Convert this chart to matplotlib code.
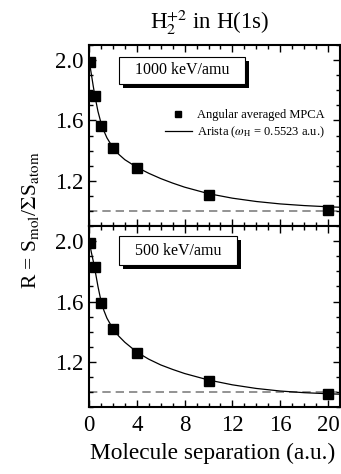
import matplotlib
matplotlib.use("Agg")
import matplotlib.pyplot as plt
from matplotlib.patches import Rectangle
from matplotlib.ticker import MultipleLocator

plt.rcParams['font.family'] = ['Liberation Serif', 'DejaVu Serif']
plt.rcParams['mathtext.fontset'] = 'stix'

# MPCA points
sep = [0.1, 0.5, 1, 2, 4, 10, 20]
r_1000 = [1.99, 1.76, 1.565, 1.42, 1.285, 1.105, 1.005]
r_500 = [1.99, 1.83, 1.59, 1.42, 1.26, 1.072, 0.986]

# Arista curve
curve_x = [0, 0.1, 0.2, 0.35, 0.5, 0.75, 1, 1.25, 1.5, 2, 2.5, 3, 4, 5, 6, 7, 8,
           10, 12, 14, 16, 18, 20, 21]
curve_1000 = [2.0, 1.955, 1.905, 1.83, 1.76, 1.66, 1.585, 1.53, 1.485, 1.42, 1.375, 1.34,
              1.29, 1.25, 1.215, 1.185, 1.158, 1.115, 1.085, 1.063, 1.047, 1.036, 1.028, 1.025]
curve_500 = [2.0, 1.965, 1.925, 1.87, 1.81, 1.70, 1.605, 1.54, 1.49, 1.42, 1.37, 1.33,
             1.265, 1.218, 1.18, 1.15, 1.123, 1.08, 1.048, 1.024, 1.007, 0.996, 0.989, 0.986]

labels = ["1000 keV/amu", "500 keV/amu"]
points = [r_1000, r_500]
curves = [curve_1000, curve_500]

fig = plt.figure(figsize=(3.41, 4.74), dpi=100)
L, R = 0.261, 0.997
ax_top = fig.add_axes([L, 0.523, R - L, 0.905 - 0.523])
ax_bot = fig.add_axes([L, 0.141, R - L, 0.523 - 0.141])

boxes = [(0.12, 0.785, 0.50, 0.149), (0.12, 0.785, 0.47, 0.16)]

for i, ax in enumerate([ax_top, ax_bot]):
    ax.axhline(1.0, color='#808080', ls=(0, (5, 3)), lw=1.2, zorder=1)
    ax.plot(curve_x, curves[i], color='k', lw=0.9, zorder=2,
            label=r'Arista ($\omega_{\rm H}$ = 0.5523 a.u.)')
    ax.plot(sep, points[i], 's', color='k', ms=6.5, zorder=3, label='Angular averaged MPCA')
    ax.set_xlim(0, 21)
    ax.set_ylim(0.9, 2.1)
    ax.xaxis.set_major_locator(MultipleLocator(4))
    ax.xaxis.set_minor_locator(MultipleLocator(1))
    ax.yaxis.set_minor_locator(MultipleLocator(0.1))
    ax.set_yticks([1.2, 1.6, 2.0])
    ax.set_yticklabels(['1.2', '1.6', '2.0'])
    ax.tick_params(which='both', direction='in', top=True, right=True, width=1.0, labelsize=16.5)
    ax.tick_params(axis='y', pad=4)
    ax.tick_params(axis='x', pad=6)
    ax.tick_params(which='major', length=5)
    ax.tick_params(which='minor', length=3)
    for s in ax.spines.values():
        s.set_linewidth(1.5)
    bx, by, bw, bh = boxes[i]
    ax.add_patch(Rectangle((bx + 0.016, by - 0.022), bw, bh, transform=ax.transAxes,
                           fc='k', ec='k', lw=0, zorder=4))
    ax.add_patch(Rectangle((bx, by), bw, bh, transform=ax.transAxes,
                           fc='white', ec='k', lw=0.8, zorder=5))
    ax.text(bx + bw / 2, by + bh / 2, labels[i], transform=ax.transAxes,
            fontsize=11.5, ha='center', va='center', zorder=6)

ax_top.tick_params(labelbottom=False)
ax_bot.set_xticks([0, 4, 8, 12, 16, 20])

h, l = ax_top.get_legend_handles_labels()
ax_top.legend([h[1], h[0]], [l[1], l[0]], loc='upper right', bbox_to_anchor=(0.94, 0.645),
              frameon=False, fontsize=9, handlelength=2.2, handletextpad=0.4,
              borderaxespad=0, borderpad=0, labelspacing=0.3, markerscale=0.75)

fig.text(0.616, 0.954, r'H$_2^{+2}$ in H(1s)', ha='center', va='center', fontsize=16.5)
fig.text(0.625, 0.043, 'Molecule separation (a.u.)', ha='center', va='center', fontsize=16.8)
fig.text(0.088, 0.535, r'R = S$_{\rm mol}$/$\Sigma$S$_{\rm atom}$', rotation=90,
         ha='center', va='center', fontsize=15.5)

fig.savefig('out.png', dpi=100)
